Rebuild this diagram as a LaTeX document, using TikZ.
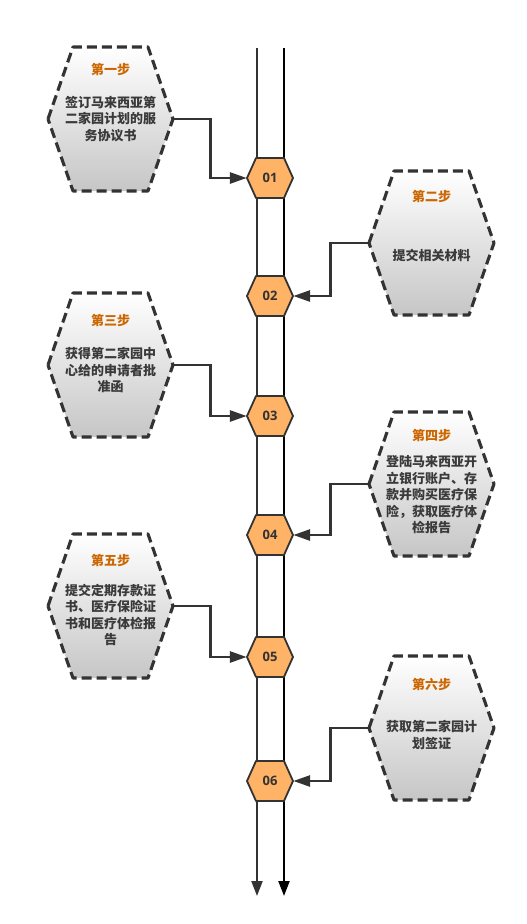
\documentclass[tikz,border=0pt]{standalone}
\usepackage{fontspec}
\newfontfamily\cjk{Noto Sans CJK SC}
\newfontfamily\numfont{Open Sans}
\usetikzlibrary{arrows.meta}
\definecolor{titleor}{HTML}{CC6600}
\definecolor{bodyg}{HTML}{3A3A3A}
\definecolor{lineg}{HTML}{333333}
\definecolor{hexor}{HTML}{FFB366}
\definecolor{boxbot}{HTML}{C6C6C6}
\tikzset{
  bighex/.pic={
    \shade[top color=white, bottom color=boxbot] (-62.5,0) -- (-37.5,-72) -- (37.5,-72) -- (62.5,0) -- (37.5,72) -- (-37.5,72) -- cycle;
    \draw[lineg, line width=3.1pt, dash pattern=on 10pt off 5pt, line join=round] (-62.5,0) -- (-37.5,-72) -- (37.5,-72) -- (62.5,0) -- (37.5,72) -- (-37.5,72) -- cycle;
    \coordinate (-w) at (-62.5,0);
    \coordinate (-e) at (62.5,0);
  },
  smallhex/.pic={
    \draw[fill=hexor, draw=lineg, line width=1.8pt, line join=round] (-23,0) -- (-14,-20) -- (14,-20) -- (23,0) -- (14,20) -- (-14,20) -- cycle;
  },
  numtext/.style={font=\numfont\bfseries\fontsize{13pt}{15pt}\selectfont, text=lineg, minimum width=46pt, minimum height=40pt, inner sep=0pt},
  steptitle/.style={font=\cjk\bfseries\fontsize{13pt}{16.5pt}\selectfont, text=titleor, inner sep=0pt},
  stepbody/.style={font=\cjk\bfseries\fontsize{13pt}{16.5pt}\selectfont, text=bodyg, align=center, inner sep=0pt},
  conn/.style={draw=lineg, line width=2.8pt, -{Triangle[length=17pt,width=11pt]}},
  vline/.style={line width=2.2pt, -{Triangle[length=15pt,width=11pt]}},
}
\begin{document}
\begin{tikzpicture}[x=1pt,y=-1pt]
\useasboundingbox (0,0) rectangle (527,924);
% timeline
\coordinate (la) at (257,48);
\coordinate (lb) at (257,896);
\coordinate (ra) at (284,48);
\coordinate (rb) at (284,896);
\draw[vline, lineg] (la) -- (lb);
\draw[vline, black] (ra) -- (rb);
% step boxes
\pic (s1) at (110.5,119) {bighex};
\pic (s2) at (431.5,243) {bighex};
\pic (s3) at (110.5,365) {bighex};
\pic (s4) at (431.5,484) {bighex};
\pic (s5) at (110.5,606) {bighex};
\pic (s6) at (431.5,728) {bighex};
\node[steptitle] (t1) at (110.5,69) {第一步};
\node[stepbody] (b1) at (110.5,119) {签订马来西亚第\\二家园计划的服\\务协议书};
\node[steptitle] (t2) at (431.5,196) {第二步};
\node[stepbody] (b2) at (431.5,255) {提交相关材料};
\node[steptitle] (t3) at (110.5,320) {第三步};
\node[stepbody] (b3) at (110.5,370) {获得第二家园中\\心给的申请者批\\准函};
\node[steptitle] (t4) at (431.5,435) {第四步};
\node[stepbody] (b4) at (431.5,495) {登陆马来西亚开\\立银行账户、存\\款并购买医疗保\\险，获取医疗体\\检报告};
\node[steptitle] (t5) at (110.5,560) {第五步};
\node[stepbody] (b5) at (110.5,615) {提交定期存款证\\书、医疗保险证\\书和医疗体检报\\告};
\node[steptitle] (t6) at (431.5,684) {第六步};
\node[stepbody] (b6) at (431.5,735) {获取第二家园计\\划签证};
% number hexagons
\pic at (270,178) {smallhex}; \node[numtext] (h1) at (270,178) {01};
\pic at (270,296) {smallhex}; \node[numtext] (h2) at (270,296) {02};
\pic at (270,416) {smallhex}; \node[numtext] (h3) at (270,416) {03};
\pic at (270,535) {smallhex}; \node[numtext] (h4) at (270,535) {04};
\pic at (270,657) {smallhex}; \node[numtext] (h5) at (270,657) {05};
\pic at (270,781) {smallhex}; \node[numtext] (h6) at (270,781) {06};
% connectors
\draw[conn] (s1-e) -- ++(37.5,0) |- (h1.west);
\draw[conn] (s2-w) -- ++(-38.5,0) |- (h2.east);
\draw[conn] (s3-e) -- ++(37.5,0) |- (h3.west);
\draw[conn] (s4-w) -- ++(-38.5,0) |- (h4.east);
\draw[conn] (s5-e) -- ++(37.5,0) |- (h5.west);
\draw[conn] (s6-w) -- ++(-38.5,0) |- (h6.east);
\end{tikzpicture}
\end{document}
